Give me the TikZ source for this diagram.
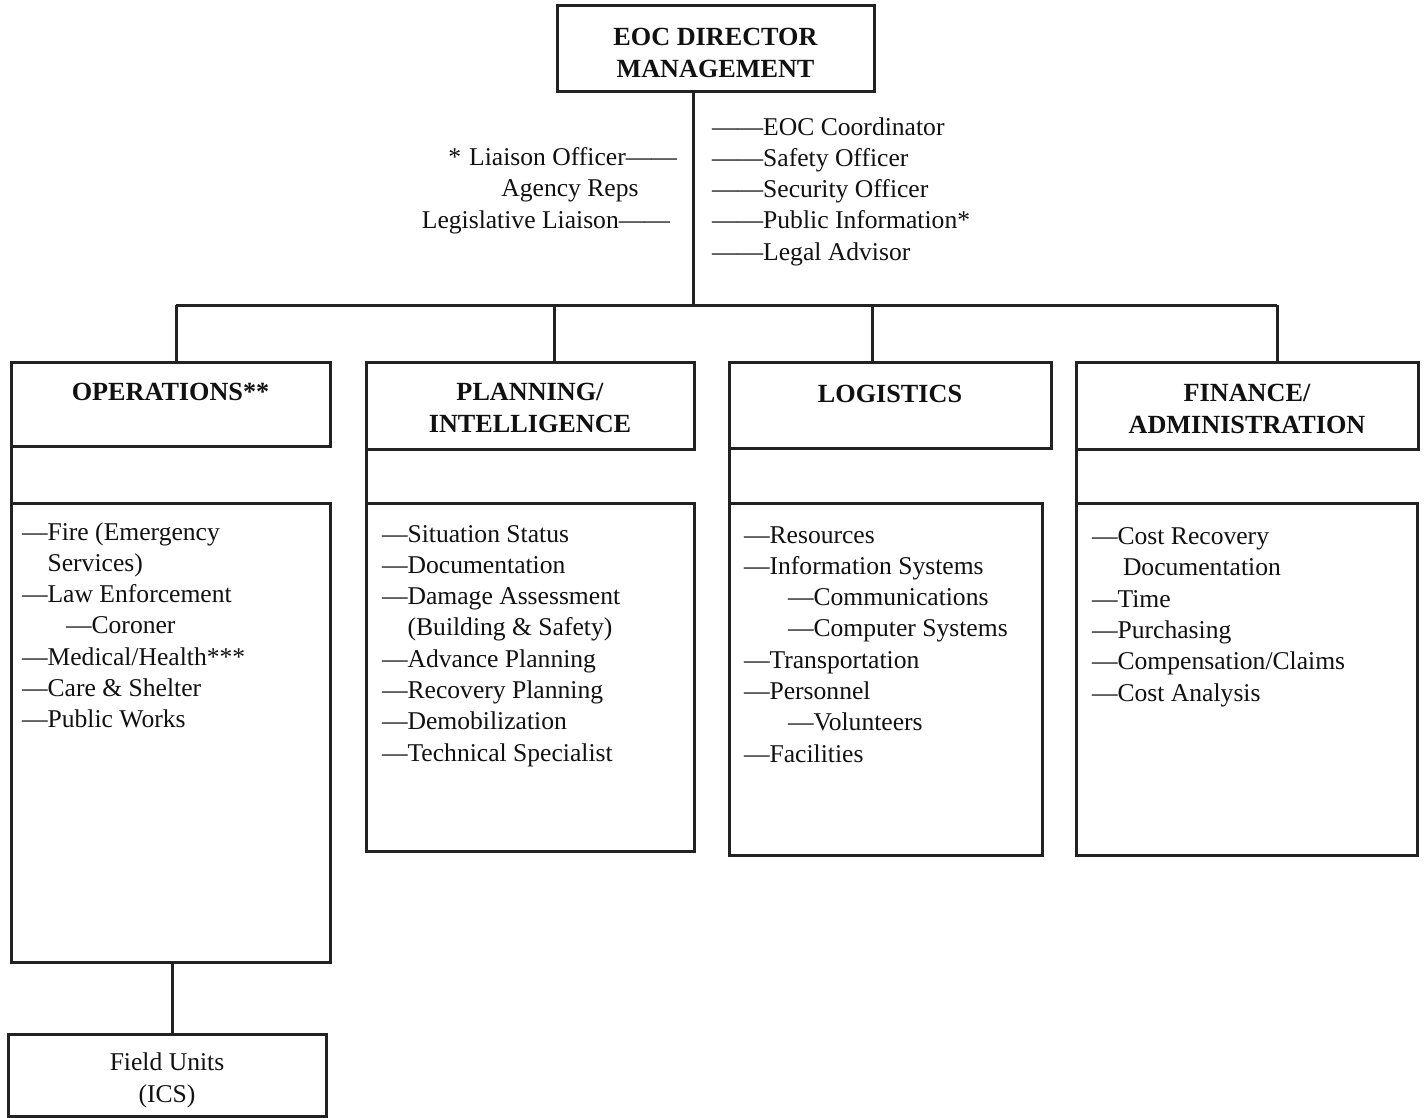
\documentclass[tikz,border=0pt]{standalone}
\usepackage{fontspec}
\setmainfont{Liberation Serif}
\definecolor{ln}{HTML}{222222}
\definecolor{tx}{HTML}{111111}
\begin{document}
\begin{tikzpicture}[x=1pt,y=-1pt,
  box/.style={draw=ln,line width=3pt,inner sep=0pt,outer sep=0pt},
  conn/.style={draw=ln,line width=3pt},
  txt/.style={text=tx,inner sep=0pt,outer sep=0pt,font=\fontsize{25.6}{31.3}\selectfont},
  hd/.style={txt,font=\fontsize{26.2}{32}\selectfont\bfseries,align=center,anchor=base},
  list/.style={txt,align=left,anchor=base west}]
\useasboundingbox[fill=white] (0,0) rectangle (1425,1118);

% director box
\node[box,minimum width=317pt,minimum height=86pt] (dir) at (715.5,49) {};
\node[hd] (dirt) at (715.5,78) {EOC DIRECTOR\\MANAGEMENT};

% staff texts (anchor = baseline of last line)
\node[list] (staffR) at (712,260.2) {——EOC Coordinator\\——Safety Officer\\——Security Officer\\——Public Information*\\——Legal Advisor};
\node[txt,anchor=base east] (liais) at (677,166) {*\hspace{8pt}Liaison Officer——};
\node[txt,anchor=base] (agency) at (570,197) {Agency Reps};
\node[txt,anchor=base east] (legis) at (670,229) {Legislative Liaison——};

% section headers
\node[box,minimum width=319pt,minimum height=84pt] (opsh) at (170.5,404) {};
\node[box,minimum width=328pt,minimum height=87pt] (plnh) at (530,405.5) {};
\node[box,minimum width=322pt,minimum height=86pt] (logh) at (890,405) {};
\node[box,minimum width=342pt,minimum height=87pt] (finh) at (1247,405.5) {};

\node[hd] (opst) at (opsh.center |- 0,400) {OPERATIONS**};
\node[hd] (plnt) at (plnh.center |- 0,432) {PLANNING/\\INTELLIGENCE};
\node[hd] (logt) at (logh.center |- 0,402) {LOGISTICS};
\node[hd] (fint) at (finh.center |- 0,433) {FINANCE/\\ADMINISTRATION};

% bodies
\node[box,minimum width=319pt,minimum height=459pt] (opsb) at (170.5,732.5) {};
\node[box,minimum width=328pt,minimum height=348pt] (plnb) at (530,677) {};
\node[box,minimum width=313pt,minimum height=352pt] (logb) at (885.5,679) {};
\node[box,minimum width=341pt,minimum height=352pt] (finb) at (1246.5,679) {};

\draw[conn] (opsh.south west) -- (opsb.north west);
\draw[conn] (plnh.south west) -- (plnb.north west);
\draw[conn] (logh.south west) -- (logb.north west);
\draw[conn] (finh.south west) -- (finb.north west);

% body lists (anchor = baseline of last line)
\node[list] (opsl) at (22,727.8) {—Fire (Emergency\\\phantom{—}Services)\\—Law Enforcement\\\hspace{44pt}—Coroner\\—Medical/Health***\\—Care \& Shelter\\—Public Works};
\node[list] (plnl) at (382,761.1) {—Situation Status\\—Documentation\\—Damage Assessment\\\phantom{—}(Building \& Safety)\\—Advance Planning\\—Recovery Planning\\—Demobilization\\—Technical Specialist};
\node[list] (logl) at (744,762.1) {—Resources\\—Information Systems\\\hspace{44pt}—Communications\\\hspace{44pt}—Computer Systems\\—Transportation\\—Personnel\\\hspace{44pt}—Volunteers\\—Facilities};
\node[list] (finl) at (1092,701) {—Cost Recovery\\\hspace{31pt}Documentation\\—Time\\—Purchasing\\—Compensation/Claims\\—Cost Analysis};

% field units
\node[box,minimum width=318pt,minimum height=82pt] (fu) at (167,1075) {};
\node[txt,align=center,anchor=base] (fut) at (167,1102) {Field Units\\(ICS)};

% connectors
\coordinate (vx) at (693,305);
\coordinate (b1) at (176,305);
\coordinate (b2) at (554,305);
\coordinate (b3) at (872,305);
\coordinate (b4) at (1277,305);
\coordinate (fx) at (172,0);
\draw[conn] (dir.south -| vx) -- (vx);
\draw[conn] (b1) -- (b4);
\draw[conn] (b1) -- (b1 |- opsh.north);
\draw[conn] (b2) -- (b2 |- plnh.north);
\draw[conn] (b3) -- (b3 |- logh.north);
\draw[conn] (b4) -- (b4 |- finh.north);
\draw[conn] (opsb.south -| fx) -- (fu.north -| fx);
\end{tikzpicture}
\end{document}
